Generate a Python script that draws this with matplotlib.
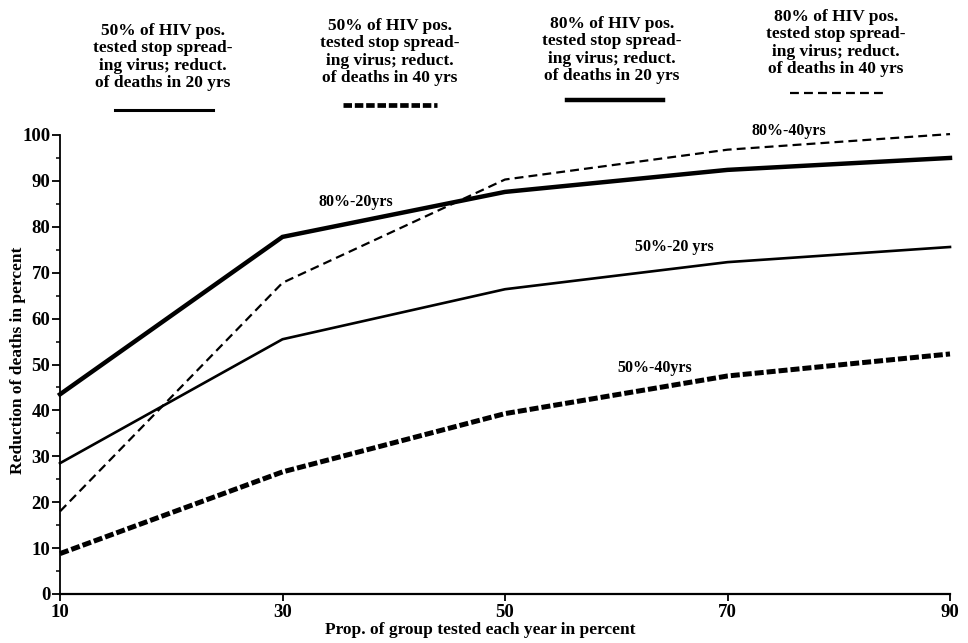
import matplotlib
matplotlib.use("Agg")
import matplotlib.pyplot as plt
from matplotlib.lines import Line2D

# ---- data ----
x_vals = [10, 30, 50, 70, 90]
s80_20 = [43.5, 77.8, 87.6, 92.4, 95.0]
s80_40 = [18.0, 67.8, 90.3, 96.8, 100.2]
s50_20 = [28.5, 55.5, 66.4, 72.3, 75.6]
s50_40 = [8.8, 26.6, 39.3, 47.5, 52.3]

x_ticks = [10, 30, 50, 70, 90]
y_ticks = [0, 10, 20, 30, 40, 50, 60, 70, 80, 90, 100]

legend_texts = [
    "50% of HIV pos.\ntested stop spread-\ning virus; reduct.\nof deaths in 20 yrs",
    "50% of HIV pos.\ntested stop spread-\ning virus; reduct.\nof deaths in 40 yrs",
    "80% of HIV pos.\ntested stop spread-\ning virus; reduct.\nof deaths in 20 yrs",
    "80% of HIV pos.\ntested stop spread-\ning virus; reduct.\nof deaths in 40 yrs",
]
curve_labels = ["80%-20yrs", "80%-40yrs", "50%-20 yrs", "50%-40yrs"]

FONT = "Liberation Serif"
plt.rcParams['font.family'] = [FONT, 'DejaVu Serif']
plt.rcParams['font.weight'] = 'bold'

W, H = 968, 643
fig = plt.figure(figsize=(W / 100, H / 100), dpi=100)
ax = fig.add_axes([60 / W, 1 - 594 / H, (950 - 60) / W, (594 - 135) / H])

styles = {
    "s80_20": dict(color="black", lw=3.2, ls="-", solid_joinstyle="miter"),
    "s80_40": dict(color="black", lw=1.6, ls=(0, (4.0, 2.3))),
    "s50_20": dict(color="black", lw=1.9, ls="-"),
    "s50_40": dict(color="black", lw=3.6, ls=(0, (1.8, 0.6))),
}

ax.plot(x_vals, s80_20, clip_on=False, **styles["s80_20"])
ax.plot(x_vals, s80_40, clip_on=False, **styles["s80_40"])
ax.plot(x_vals, s50_20, clip_on=False, **styles["s50_20"])
ax.plot(x_vals, s50_40, clip_on=False, **styles["s50_40"])

ax.set_xlim(10, 90)
ax.set_ylim(0, 100)
ax.set_xticks(x_ticks)
ax.set_yticks(y_ticks)
ax.set_yticks([5, 15, 25, 35, 45, 55, 65, 75, 85, 95], minor=True)
ax.spines['top'].set_visible(False)
ax.spines['right'].set_visible(False)
ax.spines['left'].set_linewidth(1.3)
ax.spines['bottom'].set_linewidth(1.6)
ax.tick_params(axis='y', which='major', direction='out', length=6, width=1.3,
               labelsize=13.5, pad=1)
ax.tick_params(axis='y', which='minor', direction='out', length=3, width=1.1)
ax.tick_params(axis='x', which='major', direction='out', length=5, width=1.3,
               labelsize=13.5, pad=2)
for lab in ax.get_xticklabels() + ax.get_yticklabels():
    lab.set_fontweight('bold')

fig.text(18 / W, 1 - 360 / H, "Reduction of deaths in percent", fontsize=12.5,
         fontweight='bold', rotation=90, ha='center', va='center')
fig.text(480 / W, 1 - 630 / H, "Prop. of group tested each year in percent",
         fontsize=12.5, fontweight='bold', ha='center', va='center')

# curve labels
ax.text(36.6, 85.4, curve_labels[0], fontsize=11.5, fontweight='bold',
        ha='center', va='center')
ax.text(75.5, 100.9, curve_labels[1], fontsize=11.5, fontweight='bold',
        ha='center', va='center')
ax.text(65.2, 75.6, curve_labels[2], fontsize=11.5, fontweight='bold',
        ha='center', va='center')
ax.text(63.5, 49.3, curve_labels[3], fontsize=11.5, fontweight='bold',
        ha='center', va='center')

# legend blocks at top
blocks = [
    (163, 57, 115, 213, 110, "s50_20"),
    (390, 52, 343, 437, 105, "s50_40"),
    (612, 50, 567, 663, 100, "s80_20"),
    (836, 43, 790, 883, 93, "s80_40"),
]
leg_style = {
    "s50_20": dict(color="black", lw=2.2, ls="-"),
    "s50_40": dict(color="black", lw=3.4, ls=(0, (1.8, 0.6))),
    "s80_20": dict(color="black", lw=3.2, ls="-"),
    "s80_40": dict(color="black", lw=1.6, ls=(0, (4.0, 2.3))),
}
for (cx, cy, x0, x1, ly, key), txt in zip(blocks, legend_texts):
    fig.text(cx / W, 1 - cy / H, txt, fontsize=12.5, fontweight='bold',
             ha='center', va='center', linespacing=1.12)
    fig.add_artist(Line2D([x0 / W, x1 / W], [1 - ly / H, 1 - ly / H],
                          transform=fig.transFigure, **leg_style[key]))

fig.savefig("out.png", dpi=100)
